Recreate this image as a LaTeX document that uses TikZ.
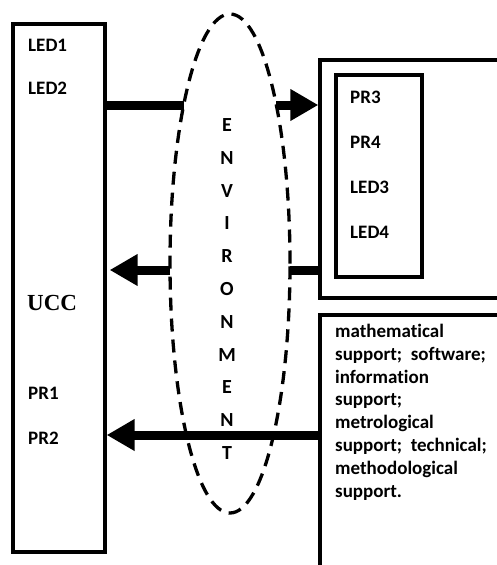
\documentclass[tikz,border=0pt]{standalone}
\usepackage{fontspec}
\setmainfont[Ligatures=NoCommon]{Carlito}
\newfontfamily\uccfont{Liberation Serif}
\usetikzlibrary{shapes.geometric,arrows.meta}

\begin{document}
\begin{tikzpicture}[x=1pt,y=-1pt,
    box/.style={draw,line width=3.3pt,inner sep=0pt},
    lbl/.style={anchor=west,inner sep=0pt,font=\fontsize{19}{22}\selectfont\bfseries},
    envletter/.style={inner sep=0pt,font=\fontsize{20}{24}\selectfont\bfseries},
    bar/.style={line width=9pt},
    tip/.style={-{Triangle[length=28pt,width=30pt]}}]
    \useasboundingbox (0,0) rectangle (497,565);
    \clip (0,0) rectangle (497,565);
    %\draw[help lines] (0,0) grid[step=50] (497,565);
    % blocs
    \node[box,minimum width=92pt,minimum height=528pt] (ucc) at (59,288) {};
    \node[box,minimum width=210pt,minimum height=238pt] (outer) at (425,179) {};
    \node[box,minimum width=86pt,minimum height=202pt] (inner) at (379,176) {};
    \node[box,minimum width=210pt,minimum height=305pt] (sbox) at (425,467.5) {};
    % milieu
    \node[draw,ellipse,line width=3.3pt,dash pattern=on 13pt off 8pt,
          minimum width=120pt,minimum height=499pt,inner sep=0pt] (env) at (230,263.5) {};
    \foreach \l [count=\i from 0] in {E,N,V,I,R,O,N,M,E,N,T}
        \node[envletter] (env\i) at (227,125+32.8*\i) {\l};
    % textes
    \node[lbl] (led1) at (28,45) {LED1};
    \node[lbl] (led2) at (28,88) {LED2};
    \node[anchor=west,inner sep=0pt,font=\uccfont\fontsize{23}{26}\selectfont\bfseries] (ucctxt) at (27,303) {UCC};
    \node[lbl] (pr1) at (28,393) {PR1};
    \node[lbl] (pr2) at (28,438) {PR2};
    \node[lbl] (pr3) at (350,97) {PR3};
    \node[lbl] (pr4) at (350,142) {PR4};
    \node[lbl] (led3) at (350,187) {LED3};
    \node[lbl] (led4) at (350,232) {LED4};
    \node[anchor=north west,inner sep=0pt,align=left,
          font=\fontsize{19}{22.8}\selectfont\bfseries] (supp) at (335,324)
        {mathematical\\support;\ \ software;\\information\\support;\\metrological\\support;\ \ technical;\\methodological\\support.};
    % points sur l'ellipse
    \coordinate (envtl) at (183.7,105);
    \coordinate (envtr) at (276.3,105);
    \coordinate (envml) at (170,270);
    \coordinate (envmr) at (290,270);
    \coordinate (envb) at (230,435);
    % fleches
    \draw[bar] (ucc.east |- envtl) -- (envtl);
    \draw[bar,tip] (envtr) -- (outer.west |- envtr);
    \draw[bar] (outer.west |- envmr) -- (envmr);
    \draw[bar,tip,shorten >=3pt] (envml) -- (ucc.east |- envml);
    \draw[bar,tip] (sbox.west |- envb) -- (ucc.east |- envb);
\end{tikzpicture}
\end{document}
